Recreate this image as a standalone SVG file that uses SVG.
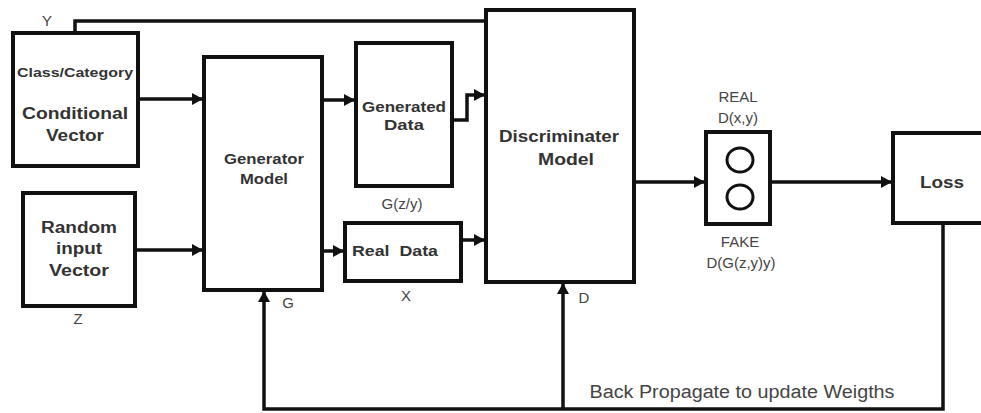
<svg xmlns="http://www.w3.org/2000/svg" width="981" height="413" viewBox="0 0 981 413">
<defs>
<marker id="arr" markerWidth="12" markerHeight="12" refX="10" refY="6" orient="auto" markerUnits="userSpaceOnUse">
<path d="M0,0 L11,6 L0,12 Z" fill="#111"/>
</marker>
<style>
.box{fill:#fff;stroke:#111;stroke-width:4}
.ln{fill:none;stroke:#111;stroke-width:3.5}
.b{font-family:"Liberation Sans",Arial,sans-serif;font-weight:bold;fill:#333;text-anchor:middle}
.r{font-family:"Liberation Sans",Arial,sans-serif;fill:#444;text-anchor:middle}
</style>
</defs>
<rect width="981" height="413" fill="#fff"/>
<g id="connectors">
<polyline class="ln" points="75,33 75,21 486,21"/>
<line class="ln" x1="138" y1="99" x2="202" y2="99" marker-end="url(#arr)"/>
<line class="ln" x1="135" y1="250" x2="202" y2="250" marker-end="url(#arr)"/>
<line class="ln" x1="322" y1="100" x2="354" y2="100" marker-end="url(#arr)"/>
<line class="ln" x1="322" y1="251" x2="343" y2="251" marker-end="url(#arr)"/>
<polyline class="ln" points="452,120 467,120 467,95 484,95" marker-end="url(#arr)"/>
<line class="ln" x1="461" y1="240" x2="484" y2="240" marker-end="url(#arr)"/>
<line class="ln" x1="634" y1="182" x2="704" y2="182" marker-end="url(#arr)"/>
<line class="ln" x1="770" y1="182" x2="891" y2="182" marker-end="url(#arr)"/>
<polyline class="ln" points="943,224 943,409 264,409 264,292" marker-end="url(#arr)"/>
<line class="ln" x1="563" y1="409" x2="563" y2="284" marker-end="url(#arr)"/>
</g>
<g id="cond">
<rect class="box" x="13" y="33" width="125" height="133"/>
<text class="b" x="75" y="77" font-size="12" textLength="116" lengthAdjust="spacingAndGlyphs">Class/Category</text>
<text class="b" x="75" y="119" font-size="17" textLength="106" lengthAdjust="spacingAndGlyphs">Conditional</text>
<text class="b" x="75" y="141" font-size="17" textLength="58" lengthAdjust="spacingAndGlyphs">Vector</text>
<text class="r" x="47" y="26" font-size="15">Y</text>
</g>
<g id="random">
<rect class="box" x="23" y="193" width="112" height="113"/>
<text class="b" x="79" y="233" font-size="16" textLength="76" lengthAdjust="spacingAndGlyphs">Random</text>
<text class="b" x="79" y="254" font-size="16" textLength="46" lengthAdjust="spacingAndGlyphs">input</text>
<text class="b" x="79" y="276" font-size="16" textLength="60" lengthAdjust="spacingAndGlyphs">Vector</text>
<text class="r" x="78" y="324" font-size="15">Z</text>
</g>
<g id="generator">
<rect class="box" x="204" y="57" width="118" height="233"/>
<text class="b" x="264" y="164" font-size="14" textLength="80" lengthAdjust="spacingAndGlyphs">Generator</text>
<text class="b" x="264" y="184" font-size="14" textLength="48" lengthAdjust="spacingAndGlyphs">Model</text>
<text class="r" x="288" y="308" font-size="15">G</text>
</g>
<g id="generated">
<rect class="box" x="356" y="43" width="96" height="143"/>
<text class="b" x="404" y="112" font-size="14" textLength="84" lengthAdjust="spacingAndGlyphs">Generated</text>
<text class="b" x="404" y="130" font-size="14" textLength="40" lengthAdjust="spacingAndGlyphs">Data</text>
<text class="r" x="402" y="209" font-size="15">G(z/y)</text>
</g>
<g id="real">
<rect class="box" x="345" y="223" width="116" height="58"/>
<text class="b" x="395" y="256" font-size="14" xml:space="preserve" textLength="86" lengthAdjust="spacingAndGlyphs">Real  Data</text>
<text class="r" x="406" y="301" font-size="15">X</text>
</g>
<g id="discriminator">
<rect class="box" x="486" y="10" width="148" height="272"/>
<text class="b" x="559" y="142" font-size="16" textLength="120" lengthAdjust="spacingAndGlyphs">Discriminater</text>
<text class="b" x="566" y="165" font-size="16" textLength="56" lengthAdjust="spacingAndGlyphs">Model</text>
<text class="r" x="584" y="303" font-size="15">D</text>
</g>
<g id="output">
<rect class="box" x="706" y="132" width="64" height="92"/>
<ellipse cx="740" cy="160" rx="13" ry="12" fill="none" stroke="#111" stroke-width="3"/>
<ellipse cx="740" cy="197" rx="13" ry="12" fill="none" stroke="#111" stroke-width="3"/>
<text class="r" x="738" y="102" font-size="15">REAL</text>
<text class="r" x="738" y="123" font-size="15">D(x,y)</text>
<text class="r" x="740" y="247" font-size="15">FAKE</text>
<text class="r" x="741" y="268" font-size="15">D(G(z,y)y)</text>
</g>
<g id="loss">
<rect class="box" x="893" y="133" width="92" height="90"/>
<text class="b" x="942" y="188" font-size="16" textLength="44" lengthAdjust="spacingAndGlyphs">Loss</text>
</g>
<text class="r" x="742" y="398" font-size="18" textLength="305" lengthAdjust="spacingAndGlyphs">Back Propagate to update Weigths</text>
</svg>
